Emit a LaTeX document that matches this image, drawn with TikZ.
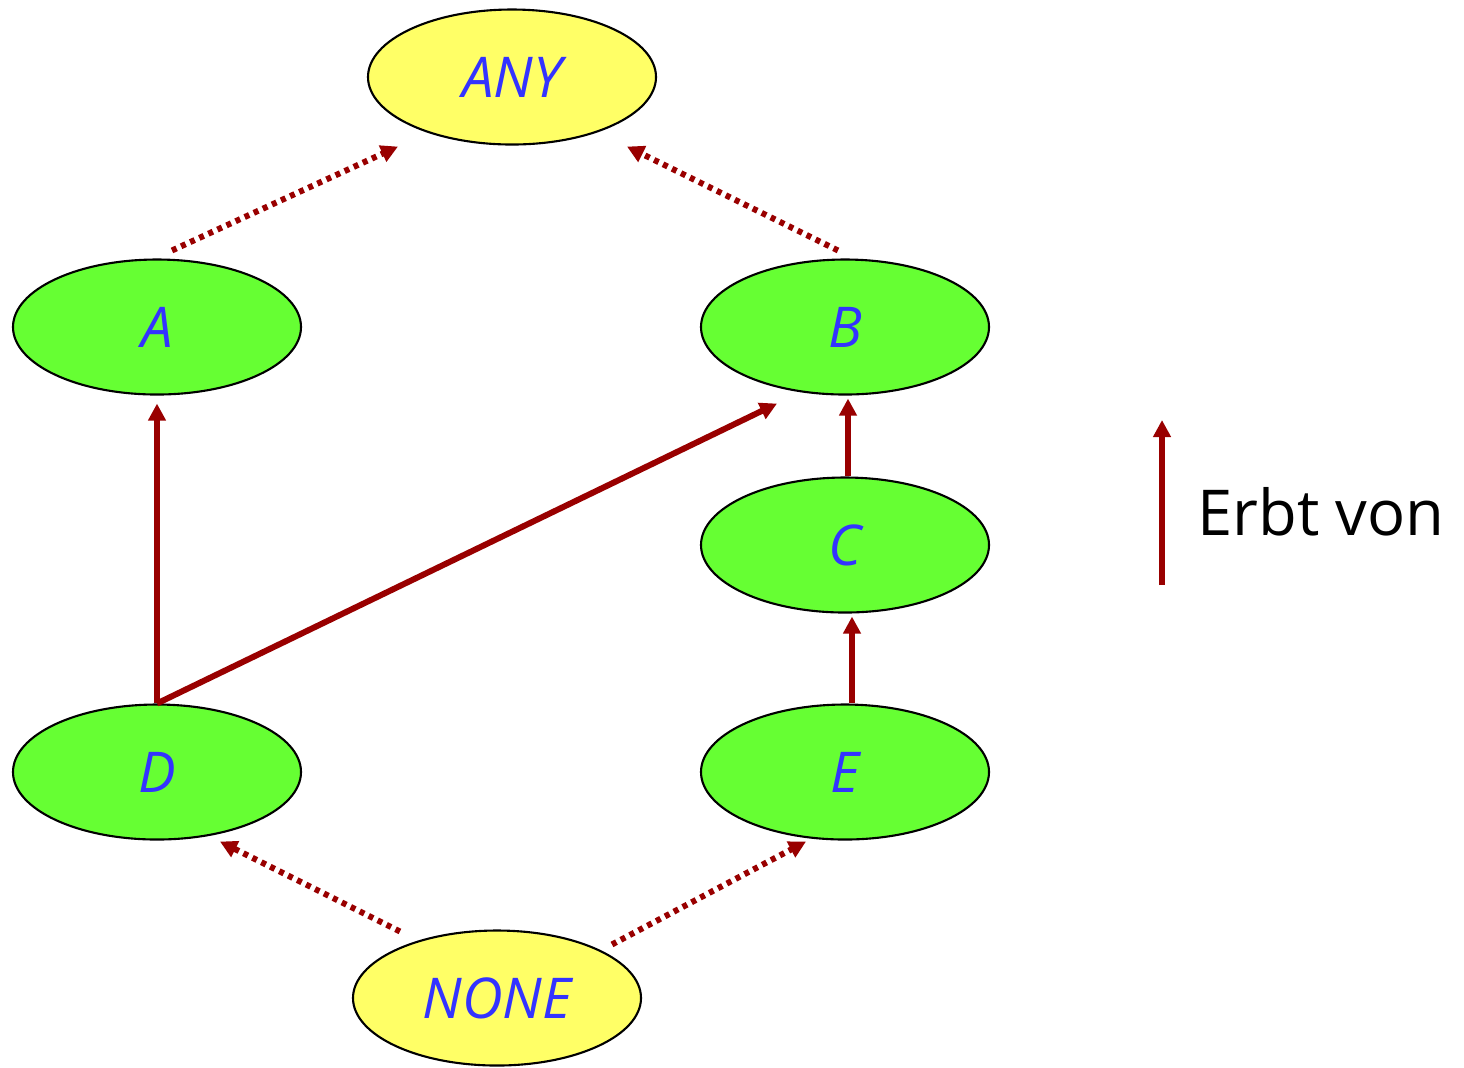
\documentclass[tikz,border=0pt]{standalone}
\usepackage{fontspec}
\setmainfont{Open Sans}
\usetikzlibrary{shapes.geometric,arrows.meta}

\definecolor{erbt}{HTML}{990000}
\definecolor{gelb}{HTML}{FFFF66}
\definecolor{gruen}{HTML}{66FF33}
\definecolor{schrift}{HTML}{3333FF}

\tikzset{
  klasse/.style={ellipse, draw=black, line width=0.6pt, fill=gruen,
    minimum width=2.88cm, minimum height=1.35cm,
    font=\fontsize{16}{18}\selectfont\itshape, text=schrift},
  grenze/.style={klasse, fill=gelb},
  erbtvon/.style={draw=erbt, line width=1.7pt,
    -{Triangle[length=0.17cm,width=0.17cm]}},
  konform/.style={erbtvon, dash pattern=on 0.05cm off 0.05cm}
}

\begin{document}
\begin{tikzpicture}
    \useasboundingbox (0,0) rectangle (14.64,-10.67);

    % Klassen
    \node[grenze] (any)  at (5.12,-0.77) {ANY};
    \node[klasse] (a)    at (1.57,-3.27) {A};
    \node[klasse] (b)    at (8.45,-3.27) {B};
    \node[klasse] (c)    at (8.45,-5.45) {C};
    \node[klasse] (d)    at (1.57,-7.72) {D};
    \node[klasse] (e)    at (8.45,-7.72) {E};
    \node[grenze] (none) at (4.97,-9.98) {NONE};

    % Vererbung
    \draw[erbtvon] (d.north) -- ([yshift=-0.08cm]a.south);
    \draw[erbtvon] (d.north) -- ([shift={(-0.68,-0.08)}]b.south);
    \draw[erbtvon] ([xshift=0.03cm]c.north) -- ([shift={(0.03,-0.03)}]b.south);
    \draw[erbtvon] ([xshift=0.07cm]e.north) -- ([shift={(0.07,-0.03)}]c.south);

    % ANY und NONE
    \draw[konform] ([shift={(0.15,0.08)}]a.north) -- ([shift={(-1.14,-0.01)}]any.south);
    \draw[konform] ([shift={(-0.07,0.08)}]b.north) -- ([shift={(1.15,-0.01)}]any.south);
    \draw[konform] ([shift={(-0.97,-0.02)}]none.north) -- ([shift={(0.63,-0.01)}]d.south);
    \draw[konform] ([shift={(1.15,-0.15)}]none.north) -- ([shift={(-0.39,-0.01)}]e.south);

    % Legende
    \coordinate (leg) at (11.62,-5.85);
    \draw[erbtvon] (leg) -- ++(0,1.65);
    \node[anchor=west, font=\fontsize{18}{20}\selectfont] (erbt) at (11.85,-5.12) {Erbt von};
\end{tikzpicture}
\end{document}
